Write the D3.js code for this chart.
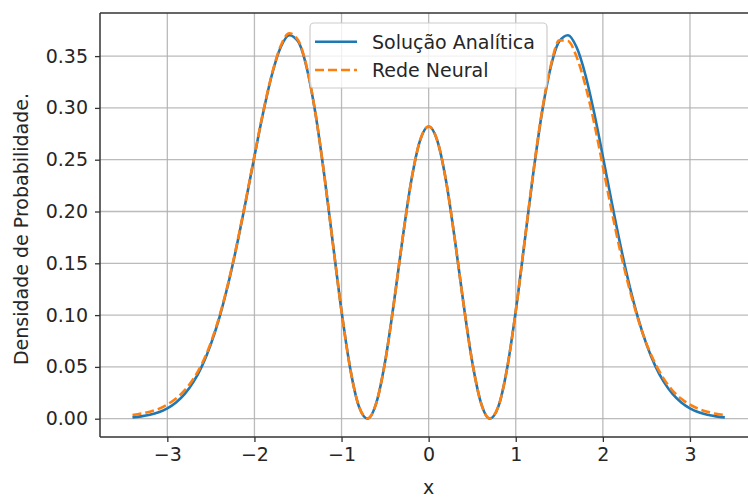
<!DOCTYPE html>
<html>
<head>
<meta charset="utf-8">
<script src="https://cdn.jsdelivr.net/npm/d3@7"></script>
<style>
  html, body { margin: 0; padding: 0; background: #fff; }
  svg { display: block; }
  text { font-family: "DejaVu Sans", sans-serif; fill: #262626; }
</style>
</head>
<body>
<svg id="chart" width="748" height="498"></svg>
<script>
// ---- data ----
const xValues = [-3.4,-3.3,-3.2,-3.1,-3.0,-2.9,-2.8,-2.7,-2.6,-2.5,-2.4,-2.3,-2.2,-2.1,-2.0,-1.9,-1.8,-1.7,-1.6,-1.5,-1.4,-1.3,-1.2,-1.1,-1.0,-0.9,-0.8,-0.7,-0.6,-0.5,-0.4,-0.3,-0.2,-0.1,0.0,0.1,0.2,0.3,0.4,0.5,0.6,0.7,0.8,0.9,1.0,1.1,1.2,1.3,1.4,1.5,1.6,1.7,1.8,1.9,2.0,2.1,2.2,2.3,2.4,2.5,2.6,2.7,2.8,2.9,3.0,3.1,3.2,3.3,3.4];

const analytic = [0.00132,0.00227,0.00382,0.00628,0.01006,0.01572,0.02393,0.03550,0.05126,0.07202,0.09838,0.13053,0.16806,0.20968,0.25318,0.29524,0.33177,0.35821,0.37017,0.36423,0.33880,0.29485,0.23623,0.16962,0.10378,0.04824,0.01166,0.00007,0.01543,0.05492,0.11115,0.17336,0.22941,0.26823,0.28209,0.26823,0.22941,0.17336,0.11115,0.05492,0.01543,0.00007,0.01166,0.04824,0.10378,0.16962,0.23623,0.29485,0.33880,0.36423,0.37017,0.35821,0.33177,0.29524,0.25318,0.20968,0.16806,0.13053,0.09838,0.07202,0.05126,0.03550,0.02393,0.01572,0.01006,0.00628,0.00382,0.00227,0.00132];

const neural = [0.0035,0.0050,0.0068,0.0095,0.0138,0.0195,0.0275,0.0385,0.0535,0.0735,0.0995,0.1315,0.1690,0.2105,0.2540,0.2960,0.3325,0.3595,0.3720,0.3655,0.3395,0.2950,0.2362,0.1694,0.1036,0.0482,0.0118,0.0003,0.0155,0.0550,0.1112,0.1734,0.2294,0.2683,0.2822,0.2683,0.2294,0.1733,0.1111,0.0549,0.0154,0.0003,0.0118,0.0484,0.1040,0.1702,0.2372,0.2960,0.3400,0.3652,0.3645,0.3490,0.3215,0.2855,0.2435,0.2010,0.1615,0.1270,0.0972,0.0725,0.0535,0.0385,0.0272,0.0192,0.0135,0.0095,0.0066,0.0047,0.0035];

const xTicks = [-3,-2,-1,0,1,2,3];
const yTicks = [0.00,0.05,0.10,0.15,0.20,0.25,0.30,0.35];
const seriesNames = ["Solução Analítica", "Rede Neural"];
const seriesColors = ["#1f77b4", "#ff7f0e"];
const xLabel = "x";
const yLabel = "Densidade de Probabilidade.";

// ---- layout ----
const svg = d3.select("#chart");
const pLeft = 100, pTop = 13, pBottom = 437, pRight = 757.3;
const fontSize = 19;

const x = d3.scaleLinear().domain([-3.773, 3.773]).range([pLeft, pRight]);
const y = d3.scaleLinear().domain([-0.01766, 0.3916]).range([pBottom, pTop]);

// grid
const grid = svg.append("g");
grid.selectAll("line.gx").data(xTicks).join("line")
  .attr("x1", d => x(d)).attr("x2", d => x(d))
  .attr("y1", pTop).attr("y2", pBottom)
  .attr("stroke", "#b0b0b0").attr("stroke-width", 1.3).attr("opacity", 0.85);
grid.selectAll("line.gy").data(yTicks).join("line")
  .attr("x1", pLeft).attr("x2", pRight)
  .attr("y1", d => y(d)).attr("y2", d => y(d))
  .attr("stroke", "#b0b0b0").attr("stroke-width", 1.3).attr("opacity", 0.85);

// lines
const pts = (vals) => xValues.map((xv, i) => [xv, vals[i]]);
const line = d3.line().x(d => x(d[0])).y(d => y(d[1])).curve(d3.curveMonotoneX);

svg.append("path").attr("d", line(pts(analytic)))
  .attr("fill", "none").attr("stroke", seriesColors[0]).attr("stroke-width", 2.6)
  .attr("stroke-linejoin", "round").attr("stroke-linecap", "butt");
svg.append("path").attr("d", line(pts(neural)))
  .attr("fill", "none").attr("stroke", seriesColors[1]).attr("stroke-width", 2.6)
  .attr("stroke-dasharray", "9,4").attr("stroke-linecap", "butt");

// axes
const xAxis = d3.axisBottom(x).tickValues(xTicks).tickSize(5).tickPadding(6)
  .tickFormat(d => (d < 0 ? "\u2212" : "") + Math.abs(d));
const gx = svg.append("g").attr("transform", `translate(0,${pBottom})`).call(xAxis);
const yAxis = d3.axisLeft(y).tickValues(yTicks).tickSize(5).tickPadding(7)
  .tickFormat(d3.format(".2f"));
const gy = svg.append("g").attr("transform", `translate(${pLeft},0)`).call(yAxis);

[gx, gy].forEach(g => {
  g.select(".domain").remove();
  g.selectAll(".tick line").attr("stroke", "#333").attr("stroke-width", 1.3);
  g.selectAll(".tick text").attr("font-size", fontSize)
    .attr("font-family", "DejaVu Sans, sans-serif").attr("fill", "#262626");
});

// spines
const spine = svg.append("g").attr("stroke", "#333").attr("stroke-width", 1.5).attr("fill", "none");
spine.append("line").attr("x1", pLeft).attr("x2", pLeft).attr("y1", pTop).attr("y2", pBottom);
spine.append("line").attr("x1", pLeft).attr("x2", pRight).attr("y1", pTop).attr("y2", pTop);
spine.append("line").attr("x1", pLeft).attr("x2", pRight).attr("y1", pBottom).attr("y2", pBottom);
spine.append("line").attr("x1", pRight).attr("x2", pRight).attr("y1", pTop).attr("y2", pBottom);

// axis labels
svg.append("text").attr("x", x(0)).attr("y", 494)
  .attr("text-anchor", "middle").attr("font-size", fontSize).text(xLabel);
svg.append("text")
  .attr("transform", `translate(28,${(pTop + pBottom) / 2 + 4}) rotate(-90)`)
  .attr("text-anchor", "middle").attr("font-size", fontSize).text(yLabel);

// legend
const lg = svg.append("g");
lg.append("rect").attr("x", 310).attr("y", 23).attr("width", 237).attr("height", 65)
  .attr("rx", 4).attr("fill", "#fff").attr("fill-opacity", 0.8)
  .attr("stroke", "#ccc").attr("stroke-width", 1.2);
const rowsY = [41.7, 70];
seriesNames.forEach((name, i) => {
  lg.append("line").attr("x1", 315).attr("x2", 357).attr("y1", rowsY[i]).attr("y2", rowsY[i])
    .attr("stroke", seriesColors[i]).attr("stroke-width", 2.6)
    .attr("stroke-dasharray", i === 1 ? "9,4" : null);
  lg.append("text").attr("x", 372).attr("y", rowsY[i] + 6.9)
    .attr("font-size", fontSize).text(name);
});
</script>
</body>
</html>
